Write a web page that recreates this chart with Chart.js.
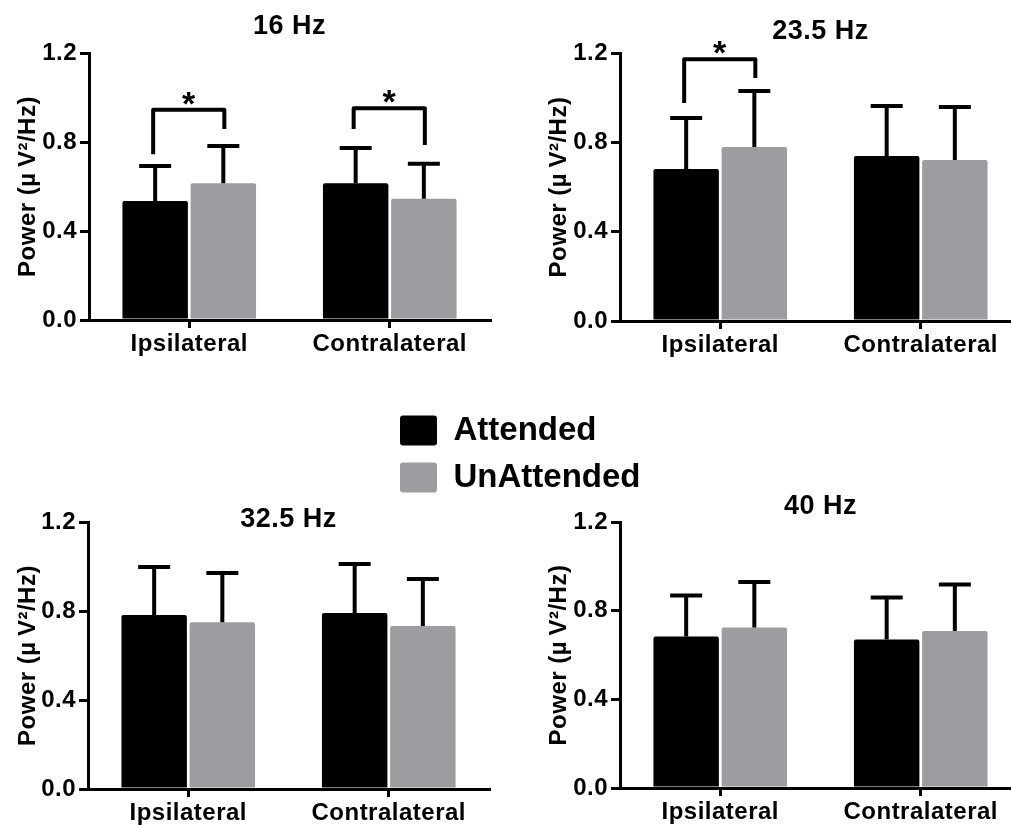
<!DOCTYPE html>
<html>
<head>
<meta charset="utf-8">
<script src="https://cdn.jsdelivr.net/npm/chart.js@4"></script>
<style>
html,body{margin:0;padding:0;background:#fff;width:1011px;height:828px;overflow:hidden;position:relative}
canvas{position:absolute}
</style>
</head>
<body>
<canvas id="c1" width="505" height="370" style="left:0px;top:0px"></canvas>
<canvas id="c2" width="490" height="370" style="left:531px;top:0px"></canvas>
<canvas id="c3" width="505" height="370" style="left:0px;top:469px"></canvas>
<canvas id="c4" width="490" height="370" style="left:531px;top:469px"></canvas>
<canvas id="leg" width="300" height="240" style="left:386px;top:400px"></canvas>
<script>
// ---------- data ----------
const categories = ['Ipsilateral', 'Contralateral'];
const seriesNames = ['Attended', 'UnAttended'];
const panelTitles = ['16 Hz', '23.5 Hz', '32.5 Hz', '40 Hz'];
const yTickLabels = ['0.0', '0.4', '0.8', '1.2'];
const yAxisTitle = 'Power (\u00B5\u2009V\u00B2/Hz)';

const attended16 = [0.535, 0.615];
const attended16Err = [0.157, 0.158];
const unattended16 = [0.615, 0.545];
const unattended16Err = [0.167, 0.157];

const attended23 = [0.681, 0.739];
const attended23Err = [0.228, 0.224];
const unattended23 = [0.779, 0.721];
const unattended23Err = [0.251, 0.237];

const attended32 = [0.782, 0.791];
const attended32Err = [0.216, 0.220];
const unattended32 = [0.750, 0.733];
const unattended32Err = [0.221, 0.211];

const attended40 = [0.684, 0.670];
const attended40Err = [0.184, 0.189];
const unattended40 = [0.724, 0.708];
const unattended40Err = [0.205, 0.210];

// significance brackets: category index, leg bottoms and top (data units)
const sig16 = [{cat: 0, left: 0.745, right: 0.858, top: 0.945, mark: '*'},
               {cat: 1, left: 0.858, right: 0.786, top: 0.952, mark: '*'}];
const sig23 = [{cat: 0, left: 0.976, right: 1.088, top: 1.172, mark: '*'}];
const sig32 = [];
const sig40 = [];

// ---------- style ----------
const FONT = "'Liberation Sans', Arial, Helvetica, sans-serif";
const GRAY = '#9d9da1';
const LS = '0.5px';
Chart.defaults.font.family = FONT;
Chart.defaults.font.weight = 'bold';
Chart.defaults.color = '#000';

const deco = {
  id: 'panelDeco',
  beforeLayout(chart) { chart.ctx.letterSpacing = LS; },
  beforeDraw(chart) { chart.ctx.letterSpacing = LS; },
  afterDatasetsDraw(chart, args, opts) {
    const ctx = chart.ctx, ys = chart.scales.y;
    ctx.save();
    ctx.strokeStyle = '#000';
    ctx.fillStyle = '#000';
    ctx.lineWidth = 4;
    ctx.lineCap = 'butt';
    chart.data.datasets.forEach((ds, i) => {
      chart.getDatasetMeta(i).data.forEach((bar, j) => {
        const yv = ys.getPixelForValue(ds.data[j] + ds.err[j]);
        ctx.beginPath();
        ctx.moveTo(bar.x, bar.y);
        ctx.lineTo(bar.x, yv);
        ctx.moveTo(bar.x - 16, yv);
        ctx.lineTo(bar.x + 16, yv);
        ctx.stroke();
      });
    });
    (opts.brackets || []).forEach(b => {
      const xl = chart.getDatasetMeta(0).data[b.cat].x - 2;
      const xr = chart.getDatasetMeta(1).data[b.cat].x + 1;
      const yl = ys.getPixelForValue(b.left);
      const yr = ys.getPixelForValue(b.right);
      const yt = ys.getPixelForValue(b.top);
      ctx.beginPath();
      ctx.lineJoin = 'round';
      ctx.moveTo(xl, yl);
      ctx.lineTo(xl, yt);
      ctx.lineTo(xr, yt);
      ctx.lineTo(xr, yr);
      ctx.stroke();
      ctx.font = 'bold 34px ' + FONT;
      ctx.textAlign = 'center';
      ctx.textBaseline = 'alphabetic';
      ctx.fillText(b.mark, (xl + xr) / 2, yt + 5);
    });
    ctx.restore();
  },
  afterDraw(chart, args, opts) {
    const ctx = chart.ctx, a = chart.chartArea;
    ctx.save();
    ctx.letterSpacing = LS;
    ctx.fillStyle = '#000';
    ctx.font = 'bold 27px ' + FONT;
    ctx.textAlign = 'center';
    ctx.textBaseline = 'middle';
    ctx.fillText(opts.title, (a.left + a.right) / 2, opts.titleY);
    ctx.restore();
  }
};

function makePanel(id, title, titleY, att, attErr, un, unErr, brackets, lay) {
  return new Chart(document.getElementById(id), {
    type: 'bar',
    data: {
      labels: categories,
      datasets: [
        {label: seriesNames[0], data: att, err: attErr, backgroundColor: '#000', borderWidth: 0,
         borderRadius: 2, borderSkipped: 'start', categoryPercentage: 0.68, barPercentage: 0.96},
        {label: seriesNames[1], data: un, err: unErr, backgroundColor: GRAY, borderWidth: 0,
         borderRadius: 2, borderSkipped: 'start', categoryPercentage: 0.68, barPercentage: 0.96}
      ]
    },
    options: {
      responsive: false,
      animation: false,
      layout: {padding: {left: 0, top: lay.T, right: lay.R, bottom: 0}},
      plugins: {
        legend: {display: false},
        tooltip: {enabled: false},
        panelDeco: {title: title, titleY: titleY, brackets: brackets}
      },
      scales: {
        x: {
          grid: {offset: false, drawOnChartArea: false, drawTicks: true, tickLength: 8, lineWidth: 3, color: '#000'},
          border: {display: true, color: '#000', width: 3},
          ticks: {font: {size: 24, weight: 'bold'}, color: '#000', padding: 2, maxRotation: 0, autoSkip: false},
          afterFit(s) { s.height = lay.Xh; }
        },
        y: {
          min: 0, max: 1.2,
          grid: {drawOnChartArea: false, drawTicks: true, tickLength: 9, lineWidth: 3, color: '#000'},
          border: {display: true, color: '#000', width: 3},
          ticks: {stepSize: 0.4, font: {size: 24, weight: 'bold'}, color: '#000', padding: 3,
                  callback: (v, i) => yTickLabels[i] !== undefined ? yTickLabels[i] : v.toFixed(1)},
          title: {display: true, text: yAxisTitle, color: '#000', font: {size: 24, weight: 'bold'}, padding: {top: 14, bottom: 0}},
          afterFit(s) { s.width = lay.Yw; }
        }
      }
    },
    plugins: [deco]
  });
}

makePanel('c1', panelTitles[0], 27, attended16, attended16Err, unattended16, unattended16Err, sig16,
          {T: 53, R: 15, Yw: 89, Xh: 50});
makePanel('c2', panelTitles[1], 32, attended23, attended23Err, unattended23, unattended23Err, sig23,
          {T: 53, R: 0, Yw: 89, Xh: 49});
makePanel('c3', panelTitles[2], 51, attended32, attended32Err, unattended32, unattended32Err, sig32,
          {T: 53, R: 16, Yw: 88, Xh: 50});
makePanel('c4', panelTitles[3], 38, attended40, attended40Err, unattended40, unattended40Err, sig40,
          {T: 53, R: 0, Yw: 89, Xh: 51});

new Chart(document.getElementById('leg'), {
  type: 'bar',
  data: {
    labels: [],
    datasets: [
      {label: seriesNames[0], data: [], backgroundColor: '#000', borderWidth: 0},
      {label: seriesNames[1], data: [], backgroundColor: GRAY, borderWidth: 0}
    ]
  },
  options: {
    responsive: false,
    animation: false,
    layout: {padding: 0},
    scales: {x: {display: false}, y: {display: false}},
    plugins: {
      tooltip: {enabled: false},
      legend: {
        display: true, position: 'top', align: 'start',
        labels: {boxWidth: 37, boxHeight: 30, padding: 14, color: '#000',
                 font: {size: 33, weight: 'bold', family: FONT},
                 useBorderRadius: true, borderRadius: 3}
      }
    }
  }
});
</script>
</body>
</html>
